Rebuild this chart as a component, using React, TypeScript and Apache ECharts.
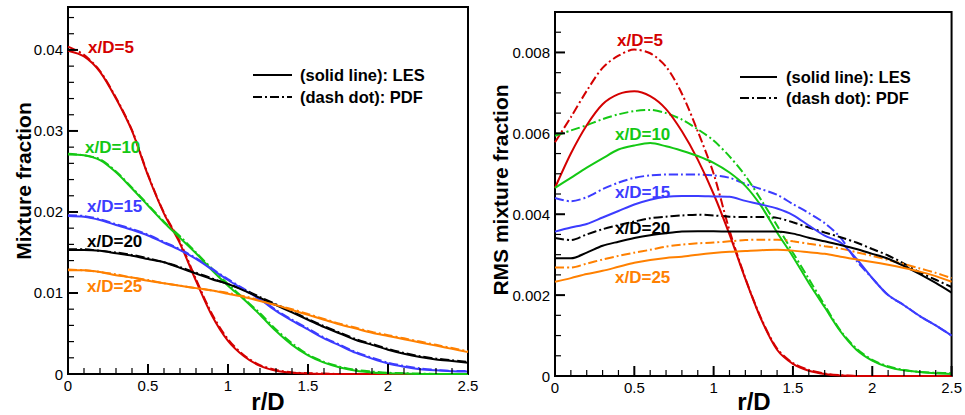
import React, { useEffect, useRef } from 'react';
import * as echarts from 'echarts';

// radial positions r/D
const R = [0, 0.1, 0.2, 0.3, 0.4, 0.5, 0.6, 0.7, 0.8, 0.9, 1.0, 1.1, 1.2, 1.3, 1.4, 1.5, 1.6, 1.7, 1.8, 1.9, 2.0, 2.1, 2.2, 2.3, 2.4, 2.5];

// ---- Left panel: mean mixture fraction ----
const meanLES5 = [0.0399, 0.0392, 0.0373, 0.0340, 0.0300, 0.0245, 0.0198, 0.0161, 0.0115, 0.0072, 0.0041, 0.0022, 0.0010, 0.0004, 0.00015, 0.00005, 0, 0, 0, 0, 0, 0, 0, 0, 0, 0];
const meanPDF5 = [0.0404, 0.0394, 0.0374, 0.0341, 0.0301, 0.0246, 0.0199, 0.0163, 0.0117, 0.0074, 0.0043, 0.0023, 0.0011, 0.0005, 0.0002, 0.0001, 0.00005, 0, 0, 0, 0, 0, 0, 0, 0, 0];
const meanLES10 = [0.0271, 0.0270, 0.0264, 0.0249, 0.0229, 0.0208, 0.0187, 0.0168, 0.0149, 0.0128, 0.0109, 0.0092, 0.0073, 0.0053, 0.0036, 0.0023, 0.0014, 0.0008, 0.0004, 0.0002, 0.0001, 0.00005, 0, 0, 0, 0];
const meanPDF10 = [0.0272, 0.0270, 0.0265, 0.0250, 0.0230, 0.0209, 0.0188, 0.0170, 0.0150, 0.0130, 0.0111, 0.0093, 0.0075, 0.0055, 0.0038, 0.0024, 0.0015, 0.0009, 0.0005, 0.0003, 0.00015, 0.0001, 0.00005, 0, 0, 0];
const meanLES15 = [0.0195, 0.0194, 0.0190, 0.0184, 0.0178, 0.0171, 0.0162, 0.0153, 0.0142, 0.0129, 0.0116, 0.0104, 0.0092, 0.0078, 0.0066, 0.0055, 0.0044, 0.0035, 0.0026, 0.0019, 0.0013, 0.0009, 0.0006, 0.00045, 0.00035, 0.0003];
const meanPDF15 = [0.0196, 0.0195, 0.0191, 0.0185, 0.0179, 0.0172, 0.0163, 0.0154, 0.0143, 0.0130, 0.0117, 0.0105, 0.0093, 0.0079, 0.0067, 0.0056, 0.0045, 0.0036, 0.0027, 0.0020, 0.0014, 0.0010, 0.0007, 0.0005, 0.0004, 0.00035];
const meanLES20 = [0.0153, 0.0153, 0.0152, 0.0149, 0.0146, 0.0142, 0.0138, 0.0131, 0.0124, 0.0117, 0.0111, 0.0103, 0.0094, 0.0085, 0.0076, 0.0067, 0.0058, 0.0050, 0.0042, 0.0036, 0.0030, 0.0025, 0.0021, 0.0018, 0.0016, 0.0014];
const meanPDF20 = [0.0154, 0.0154, 0.0152, 0.0150, 0.0147, 0.0143, 0.0138, 0.0132, 0.0125, 0.0118, 0.0111, 0.0104, 0.0095, 0.0086, 0.0077, 0.0068, 0.0059, 0.0051, 0.0043, 0.0037, 0.0031, 0.0026, 0.0022, 0.0019, 0.0017, 0.0015];
const meanLES25 = [0.0128, 0.0128, 0.0126, 0.0122, 0.0119, 0.0115, 0.0112, 0.0109, 0.0106, 0.0103, 0.0099, 0.0095, 0.0090, 0.0085, 0.0079, 0.0073, 0.0067, 0.0061, 0.0056, 0.0051, 0.0047, 0.0043, 0.0039, 0.0035, 0.0031, 0.0027];
const meanPDF25 = [0.0129, 0.0128, 0.0126, 0.0123, 0.0119, 0.0116, 0.0112, 0.0109, 0.0106, 0.0103, 0.0100, 0.0096, 0.0091, 0.0085, 0.0080, 0.0074, 0.0068, 0.0062, 0.0057, 0.0052, 0.0048, 0.0044, 0.0040, 0.0036, 0.0032, 0.0028];

// ---- Right panel: RMS mixture fraction ----
const rmsLES5 = [0.00465, 0.0055, 0.0062, 0.00672, 0.00697, 0.00704, 0.00692, 0.0066, 0.00605, 0.00535, 0.0045, 0.0035, 0.0024, 0.0014, 0.00065, 0.0003, 0.00013, 0.00005, 0.00001, 0, 0, 0, 0, 0, 0, 0];
const rmsPDF5 = [0.00578, 0.0064, 0.00705, 0.00762, 0.00792, 0.00807, 0.00798, 0.00765, 0.00698, 0.00605, 0.005, 0.0036, 0.00242, 0.00142, 0.00068, 0.00032, 0.00015, 0.00006, 0.00002, 0, 0, 0, 0, 0, 0, 0];
const rmsLES10 = [0.00465, 0.0049, 0.00515, 0.00538, 0.0056, 0.0057, 0.00576, 0.00568, 0.00557, 0.00544, 0.00527, 0.00503, 0.0047, 0.0042, 0.00355, 0.00295, 0.0023, 0.0017, 0.0011, 0.00065, 0.00038, 0.00022, 0.00014, 0.0001, 0.00007, 0.00005];
const rmsPDF10 = [0.00594, 0.00607, 0.0062, 0.00635, 0.00647, 0.00655, 0.00658, 0.0065, 0.00634, 0.0061, 0.00582, 0.00543, 0.00495, 0.00435, 0.00372, 0.00305, 0.0024, 0.00175, 0.00112, 0.00068, 0.0004, 0.00024, 0.00015, 0.0001, 0.00008, 0.00007];
const rmsLES15 = [0.00357, 0.00367, 0.00376, 0.00392, 0.00408, 0.00424, 0.00436, 0.00443, 0.00445, 0.00445, 0.00444, 0.00443, 0.00433, 0.00424, 0.00414, 0.00398, 0.00372, 0.00347, 0.0033, 0.0029, 0.00242, 0.002, 0.00175, 0.00148, 0.00125, 0.001];
const rmsPDF15 = [0.0044, 0.00432, 0.00442, 0.00462, 0.00478, 0.0049, 0.00496, 0.00498, 0.00498, 0.00498, 0.00496, 0.0049, 0.00475, 0.00462, 0.00448, 0.00425, 0.00403, 0.00378, 0.00342, 0.00285, 0.00242, 0.002, 0.00175, 0.00148, 0.00125, 0.001];
const rmsLES20 = [0.00291, 0.00291, 0.00305, 0.00322, 0.00332, 0.00341, 0.00348, 0.00353, 0.00357, 0.00358, 0.00358, 0.00357, 0.00357, 0.00357, 0.00357, 0.00352, 0.00342, 0.00333, 0.00324, 0.00314, 0.00302, 0.0029, 0.00272, 0.00252, 0.0023, 0.00206];
const rmsPDF20 = [0.00341, 0.00336, 0.0035, 0.00363, 0.00373, 0.00382, 0.0039, 0.00394, 0.00397, 0.00399, 0.00397, 0.00394, 0.00393, 0.00393, 0.00391, 0.0038, 0.00367, 0.00355, 0.00343, 0.0033, 0.00314, 0.00298, 0.00278, 0.00256, 0.00238, 0.0022];
const rmsLES25 = [0.00233, 0.00242, 0.00252, 0.0026, 0.0027, 0.0028, 0.00287, 0.00292, 0.00295, 0.003, 0.00304, 0.00307, 0.00309, 0.00311, 0.00312, 0.0031, 0.00306, 0.00302, 0.00295, 0.00288, 0.00282, 0.00275, 0.00267, 0.00258, 0.00247, 0.00233];
const rmsPDF25 = [0.00268, 0.00268, 0.00278, 0.00288, 0.00297, 0.00305, 0.00312, 0.0032, 0.00325, 0.00328, 0.0033, 0.00333, 0.00336, 0.00337, 0.00337, 0.00333, 0.00327, 0.00321, 0.00315, 0.00306, 0.00297, 0.00287, 0.00277, 0.00266, 0.00255, 0.00242];

// ---- axis ticks ----
const xMajorTicks = [0, 0.5, 1, 1.5, 2, 2.5];
const xMinorStep = 0.1;
const meanMajorTicks = [0, 0.01, 0.02, 0.03, 0.04];
const meanMinorStep = 0.002;
const meanMax = 0.0453;
const rmsMajorTicks = [0, 0.002, 0.004, 0.006, 0.008];
const rmsMinorStep = 0.0005;
const rmsMax = 0.009;

const stations = ['x/D=5', 'x/D=10', 'x/D=15', 'x/D=20', 'x/D=25'];
const colors = ['#d40000', '#14c814', '#3c3cff', '#000000', '#ff8000'];
const meanLES = [meanLES5, meanLES10, meanLES15, meanLES20, meanLES25];
const meanPDF = [meanPDF5, meanPDF10, meanPDF15, meanPDF20, meanPDF25];
const rmsLES = [rmsLES5, rmsLES10, rmsLES15, rmsLES20, rmsLES25];
const rmsPDF = [rmsPDF5, rmsPDF10, rmsPDF15, rmsPDF20, rmsPDF25];

const FONT = '"Liberation Sans", Arial, Helvetica, sans-serif';
const DASHDOT = [9, 3, 2, 3];

export default function App() {
  const ref = useRef<HTMLDivElement>(null);
  useEffect(() => {
    const chart = echarts.init(ref.current as HTMLDivElement, null, { renderer: 'svg' });

    const grids = [
      { left: 68, top: 7, width: 400, height: 367 },
      { left: 555, top: 12, width: 398, height: 364 },
    ];

    const mkX = (gi: number) => ({
      type: 'value', gridIndex: gi, min: 0, max: 2.5, interval: 0.5,
      axisLine: { show: true, onZero: false, lineStyle: { color: '#000', width: 2 } },
      axisTick: { show: false },
      minorTick: { show: false },
      axisLabel: { color: '#000', fontSize: 15, fontFamily: FONT, margin: 4 },
      splitLine: { show: false },
    });
    const mkY = (gi: number, max: number, interval: number) => ({
      type: 'value', gridIndex: gi, min: 0, max, interval, position: 'left',
      axisLine: { show: true, onZero: false, lineStyle: { color: '#000', width: 2 } },
      axisTick: { show: false },
      axisLabel: { color: '#000', fontSize: 15, fontFamily: FONT, margin: 5, showMaxLabel: false },
      splitLine: { show: false },
    });

    const series: any[] = [];
    const addSet = (sets: number[][], gi: number, dashed: boolean) => {
      sets.forEach((vals, k) => {
        series.push({
          type: 'line', name: stations[k] + (dashed ? ' PDF' : ' LES'),
          xAxisIndex: gi, yAxisIndex: gi,
          data: R.map((r, i) => [r, vals[i]]),
          showSymbol: false, symbol: 'none', smooth: 0.3,
          lineStyle: { color: colors[k], width: 2, type: dashed ? DASHDOT : 'solid' },
          z: dashed ? 3 : 4,
        });
      });
    };
    addSet(meanPDF, 0, true);
    addSet(meanLES, 0, false);
    addSet(rmsPDF, 1, true);
    addSet(rmsLES, 1, false);

    chart.setOption({
      animation: false,
      backgroundColor: '#fff',
      grid: grids.map((g) => ({ ...g, show: true, borderColor: '#000', borderWidth: 2, backgroundColor: 'transparent', containLabel: false })),
      xAxis: [mkX(0), mkX(1)],
      yAxis: [mkY(0, meanMax, 0.01), mkY(1, rmsMax, 0.002)],
      series,
    });

    const txt = (x: number, y: number, text: string, fill: string, size: number, align = 'left', rotation = 0) => ({
      type: 'text', x, y, z: 100, rotation,
      style: {
        text, fill, font: `bold ${size}px ${FONT}`,
        fontSize: size, fontWeight: 'bold', fontFamily: FONT,
        textAlign: align, align,
        textVerticalAlign: 'middle', verticalAlign: 'middle',
      },
    });
    const seg = (x1: number, y1: number, x2: number, y2: number, w: number, dash: any = null) => ({
      type: 'line', z: 100, silent: true,
      shape: { x1, y1, x2, y2 },
      style: { stroke: '#000', lineWidth: w, lineDash: dash },
    });

    const graphic: any[] = [];

    // inward ticks, positioned through the axes' own scales
    const addTicks = (gi: number, yMajor: number[], yStep: number, yMax: number) => {
      const px = (x: number, y: number) => chart.convertToPixel({ gridIndex: gi }, [x, y]) as number[];
      xMajorTicks.forEach((v) => {
        const [x, y] = px(v, 0);
        graphic.push(seg(x, y, x, y - 10, 2));
      });
      for (let i = 1; i * xMinorStep < 2.5 - 1e-9; i++) {
        if (i % 5 === 0) continue;
        const [x, y] = px(i * xMinorStep, 0);
        graphic.push(seg(x, y, x, y - 6, 1.2));
      }
      yMajor.forEach((v) => {
        const [x, y] = px(0, v);
        graphic.push(seg(x, y, x + 10, y, 2));
      });
      const ratio = Math.round((yMajor[1] - yMajor[0]) / yStep);
      for (let i = 1; i * yStep < yMax - 1e-9; i++) {
        if (i % ratio === 0) continue;
        const [x, y] = px(0, i * yStep);
        graphic.push(seg(x, y, x + 6, y, 1.2));
      }
    };
    addTicks(0, meanMajorTicks, meanMinorStep, meanMax);
    addTicks(1, rmsMajorTicks, rmsMinorStep, rmsMax);

    const leftLabels = [[88, 47], [85, 147], [87, 206], [87, 241], [87, 286]];
    const rightLabels = [[617, 40], [615, 134], [615, 192], [615, 228], [615, 277]];
    stations.forEach((s, k) => {
      graphic.push(txt(leftLabels[k][0], leftLabels[k][1], s, colors[k], 17));
      graphic.push(txt(rightLabels[k][0], rightLabels[k][1], s, colors[k], 17));
    });
    graphic.push(seg(253, 75, 292, 75, 2));
    graphic.push(seg(253, 97, 292, 97, 2, DASHDOT));
    graphic.push(txt(300, 75, '(solid line): LES', '#000', 16.5));
    graphic.push(txt(300, 97, '(dash dot): PDF', '#000', 16.5));
    graphic.push(seg(740, 77, 777, 77, 2));
    graphic.push(seg(740, 98, 777, 98, 2, DASHDOT));
    graphic.push(txt(786, 77, '(solid line): LES', '#000', 16.5));
    graphic.push(txt(786, 98, '(dash dot): PDF', '#000', 16.5));
    graphic.push(txt(268, 401, 'r/D', '#000', 24, 'center'));
    graphic.push(txt(754, 401, 'r/D', '#000', 24, 'center'));
    graphic.push(txt(23, 181, 'Mixture fraction', '#000', 21, 'center', Math.PI / 2));
    graphic.push(txt(500, 190, 'RMS mixture fraction', '#000', 21, 'center', Math.PI / 2));

    chart.setOption({ graphic });
    return () => chart.dispose();
  }, []);
  return <div ref={ref} style={{ position: 'fixed', left: 0, top: 0, width: 965, height: 415, background: '#fff' }} />;
}
